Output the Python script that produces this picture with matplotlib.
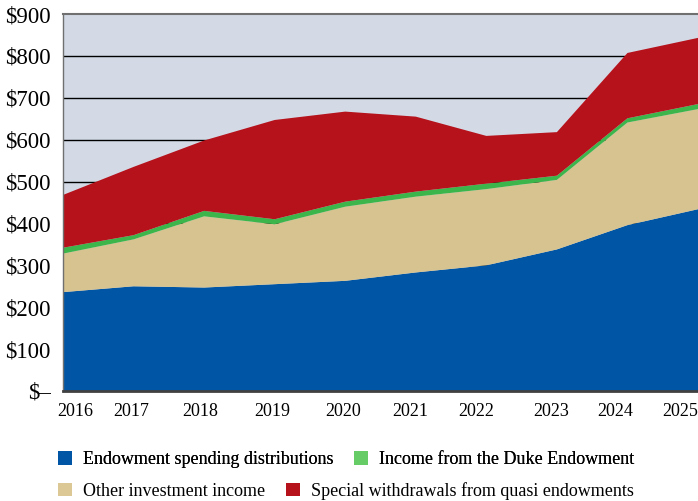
import matplotlib
matplotlib.use('Agg')
import matplotlib.pyplot as plt
from matplotlib.patches import Patch
import numpy as np

plt.rcParams['font.family'] = ['Liberation Serif', 'DejaVu Serif']

# Sources of endowment support, $ millions
years = [2016, 2017, 2018, 2019, 2020, 2021, 2022, 2023, 2024, 2025]
spending = [236, 250, 247, 255, 263, 283, 300, 338, 396, 434]
other_income = [92, 112, 170, 143, 177, 181, 182, 166, 245, 239]
duke_income = [14, 10, 13, 12, 12, 12, 13, 10, 10, 12]
special = [126, 163, 168, 237, 215, 179, 114, 104, 156, 158]

series_labels = ["Endowment spending distributions", "Other investment income",
                 "Income from the Duke Endowment", "Special withdrawals from quasi endowments"]
area_colors = ['#0055a4', '#d6c390', '#3cb54a', '#b5121b']
legend_colors = ['#0055a4', '#dcc895', '#66cc66', '#b5121b']

y_ticks = [0, 100, 200, 300, 400, 500, 600, 700, 800, 900]
y_labels = ['$\u2013'] + [f'${v}' for v in y_ticks[1:]]

# year labels sit slightly off the data points
label_pos = [0.17, 0.96, 1.94, 2.96, 3.97, 4.92, 5.86, 6.92, 7.82, 8.75]

fig = plt.figure(figsize=(6.98, 5.01), dpi=100)
ax = fig.add_axes([63 / 698, 1 - 391 / 501, 635 / 698, 377 / 501])
ax.set_facecolor('#d3dae6')

x = np.arange(len(years))
ax.stackplot(x, spending, other_income, duke_income, special,
             colors=area_colors, linewidth=0, zorder=3)

ax.set_xlim(0, len(years) - 1)
ax.set_ylim(0, 900)
ax.set_yticks(y_ticks)
ax.set_yticklabels(y_labels, fontsize=16.5)
ax.set_xticks(label_pos)
ax.set_xticklabels([str(y) for y in years], fontsize=13)
ax.tick_params(axis='y', length=0, pad=9)
ax.tick_params(axis='x', length=0, pad=9)

for v in y_ticks[1:-1]:
    ax.axhline(v, color='black', linewidth=1, zorder=1)

ax.spines['top'].set_color('#707070')
ax.spines['top'].set_linewidth(1.5)
ax.spines['left'].set_color('#707070')
ax.spines['left'].set_linewidth(1)
ax.spines['bottom'].set_color('#404040')
ax.spines['bottom'].set_linewidth(2)
ax.spines['right'].set_visible(False)
for s in ax.spines.values():
    s.set_zorder(5)

handles = [Patch(facecolor=c, edgecolor='none', label=l)
           for c, l in zip(legend_colors, series_labels)]
legend_kw = dict(ncol=2, loc='upper left', frameon=False, fontsize=13,
                 handlelength=0.78, handleheight=0.78, borderpad=0,
                 borderaxespad=0, handletextpad=0.6, columnspacing=1.15)

# each legend row flows on its own, so the second column is not aligned
row1 = fig.legend(handles=[handles[0], handles[2]],
                  bbox_to_anchor=(58 / 698, 1 - 451 / 501), **legend_kw)
fig.add_artist(row1)
fig.legend(handles=[handles[1], handles[3]],
           bbox_to_anchor=(58 / 698, 1 - 482 / 501), **legend_kw)

fig.savefig('out.png', dpi=100)
